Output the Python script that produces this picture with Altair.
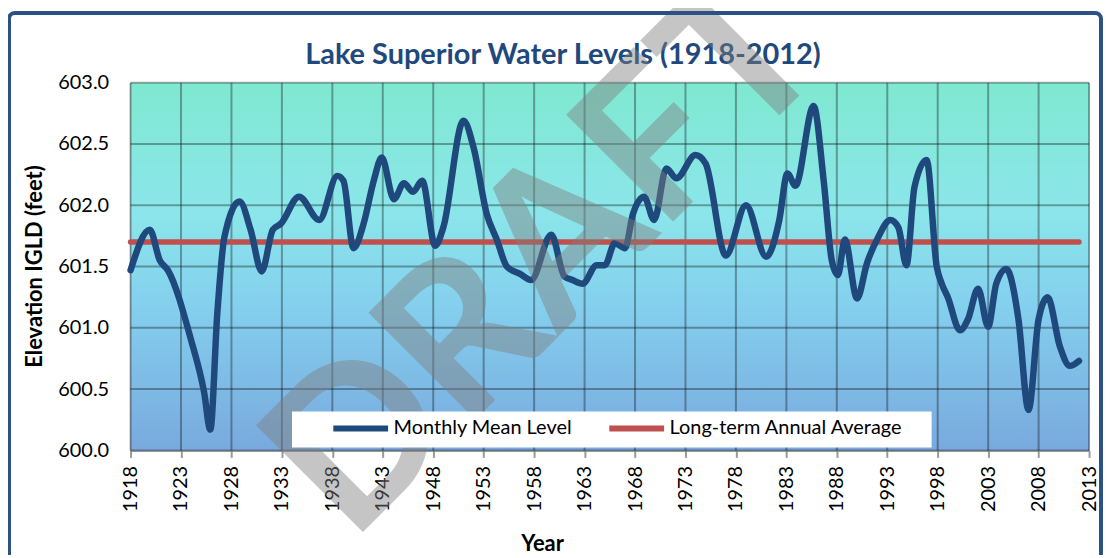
import altair as alt
import pandas as pd

# ---- data ----
years = [1918.0, 1919.9, 1920.9, 1921.7, 1924.0, 1925.3, 1925.9, 1926.6, 1927.3, 1928.8,
         1929.9, 1931.0, 1932.1, 1932.9, 1934.7, 1936.7, 1938.5, 1939.1, 1940.1, 1941.1,
         1942.1, 1942.9, 1944.1, 1945.1, 1946.0, 1946.9, 1948.2, 1949.0, 1951.0, 1952.0,
         1953.3, 1954.3, 1955.3, 1956.6, 1957.7, 1959.7, 1961.0, 1961.8, 1962.8, 1964.2,
         1965.0, 1966.0, 1967.0, 1967.8, 1968.9, 1969.9, 1971.1, 1972.1, 1974.0, 1975.0,
         1977.0, 1979.0, 1981.0, 1982.3, 1983.1, 1983.9, 1985.7, 1986.7, 1987.5, 1988.1,
         1988.8, 1990.0, 1991.0, 1992.1, 1993.3, 1994.1, 1994.9, 1995.7, 1996.9, 1997.9,
         1998.4, 1999.0, 2000.2, 2001.0, 2002.0, 2003.0, 2003.8, 2004.8, 2006.0, 2007.0,
         2008.0, 2008.9, 2010.1, 2011.1, 2012.0]
levels = [601.47, 601.80, 601.55, 601.47, 600.90, 600.47, 600.17, 601.12, 601.74, 602.03,
          601.80, 601.46, 601.80, 601.85, 602.07, 601.88, 602.24, 602.20, 601.65, 601.85,
          602.20, 602.39, 602.05, 602.18, 602.11, 602.20, 601.67, 601.82, 602.69, 602.47,
          601.93, 601.72, 601.50, 601.44, 601.39, 601.76, 601.42, 601.39, 601.36, 601.51,
          601.51, 601.69, 601.65, 601.93, 602.07, 601.88, 602.30, 602.22, 602.41, 602.34,
          601.59, 602.00, 601.58, 601.88, 602.26, 602.16, 602.81, 602.20, 601.55, 601.43,
          601.72, 601.24, 601.53, 601.74, 601.88, 601.82, 601.51, 602.15, 602.37, 601.50,
          601.36, 601.25, 600.98, 601.07, 601.32, 601.01, 601.36, 601.48, 601.07, 600.33,
          601.07, 601.25, 600.85, 600.69, 600.73]
avg_years = [1918, 2012]
avg_level = 601.70
x_ticks = list(range(1918, 2014, 5))
y_ticks = [600.0, 600.5, 601.0, 601.5, 602.0, 602.5, 603.0]
series_names = ["Monthly Mean Level", "Long-term Annual Average"]
series_colors = ["#1F497D", "#C0504D"]
title_text = ["Lake Superior Water Levels (1918-2012)"]
watermark_text = ["DRAFT"]

monthly = pd.DataFrame({"year": years, "level": levels, "series": series_names[0]})
average = pd.DataFrame({"year": avg_years, "level": [avg_level] * len(avg_years),
                        "series": series_names[1]})
bg_df = pd.DataFrame({"year": [x_ticks[0]], "year2": [x_ticks[-1]],
                      "level": [y_ticks[0]], "level2": [y_ticks[-1]]})

FONT = "Lato"
x_scale = alt.Scale(domain=[x_ticks[0], x_ticks[-1]], nice=False, zero=False)
y_scale = alt.Scale(domain=[y_ticks[0], y_ticks[-1]], nice=False, zero=False)
color_scale = alt.Scale(domain=series_names, range=series_colors)

x_axis = alt.Axis(values=x_ticks, format="d", labelAngle=270, grid=False,
                  tickSize=7, tickWidth=2, tickColor="#9a9a9a", labelPadding=8,
                  domainColor="#a0a0a0", domainWidth=1.5,
                  labelFontSize=20, labelColor="black", labelFont=FONT,
                  titleFont=FONT, titleFontSize=22, titleFontWeight="bold", titleColor="black",
                  titleX=413, titleY=93, titleAlign="center", titleBaseline="middle")
y_axis = alt.Axis(values=y_ticks, format=".1f", grid=False, ticks=False, labelPadding=22,
                  domainColor="#a0a0a0", domainWidth=1.5,
                  labelFontSize=20, labelColor="black", labelFont=FONT,
                  titleFont=FONT, titleFontSize=22, titleFontWeight="bold", titleColor="black",
                  titleAngle=270, titleX=-96, titleY=184, titleAlign="center",
                  titleBaseline="middle")


def X(field):
    return alt.X(f"{field}:Q", scale=x_scale, axis=x_axis, title="Year")


def Y(field):
    return alt.Y(f"{field}:Q", scale=y_scale, axis=y_axis, title="Elevation IGLD (feet)")


legend = alt.Legend(title=" ", titleOrient="right", titlePadding=22,
                    orient="none", legendX=162, legendY=330,
                    direction="horizontal", fillColor="white", padding=7,
                    symbolType="M-5.5,0H5.5", symbolSize=100, symbolStrokeWidth=6,
                    labelFont=FONT, labelFontSize=20, labelColor="black", labelLimit=400,
                    columnPadding=2, labelOffset=23, symbolOffset=52)
color = alt.Color("series:N", scale=color_scale, legend=legend)

gradient = alt.Gradient(
    gradient="linear", x1=0, x2=0, y1=0, y2=1,
    stops=[alt.GradientStop(offset=0.0, color="#7FE8D0"),
           alt.GradientStop(offset=0.35, color="#8BE6EA"),
           alt.GradientStop(offset=0.6, color="#84D0EE"),
           alt.GradientStop(offset=1.0, color="#79A9DE")])

bg = alt.Chart(bg_df).mark_rect(color=gradient).encode(
    x=X("year"), x2="year2", y=Y("level"), y2="level2")

xgrid = alt.Chart(pd.DataFrame({"year": x_ticks})).mark_rule(
    color="black", opacity=0.33, strokeWidth=2).encode(x=X("year"))
ygrid = alt.Chart(pd.DataFrame({"level": y_ticks})).mark_rule(
    color="black", opacity=0.33, strokeWidth=2).encode(y=Y("level"))

avg_line = alt.Chart(average).mark_line(strokeWidth=5.5, strokeCap="round").encode(
    x=X("year"), y=Y("level"), color=color)
monthly_line = alt.Chart(monthly).mark_line(
    strokeWidth=6.5, strokeCap="round", interpolate="monotone").encode(
    x=X("year"), y=Y("level"), color=color)

watermark = alt.Chart(pd.DataFrame({"t": watermark_text})).mark_text(
    font=FONT, fontSize=210, fontWeight="bold", color="#808080", opacity=0.45,
    angle=315, align="center", baseline="middle").encode(
    text="t:N", x=alt.value(419), y=alt.value(176))

title = alt.Chart(pd.DataFrame({"t": title_text})).mark_text(
    font=FONT, fontSize=29, fontWeight="bold", color="#1F497D",
    align="center", baseline="alphabetic").encode(
    text="t:N", x=alt.value(434), y=alt.value(-19))

border = alt.Chart(pd.DataFrame({"a": [0]})).mark_rect(
    filled=False, stroke="#2B5185", strokeWidth=4, cornerRadius=6).encode(
    x=alt.value(-122), x2=alt.value(974), y=alt.value(-70), y2=alt.value(520))

chart = alt.layer(bg, xgrid, ygrid, avg_line, monthly_line, title, watermark,
                  border).properties(
    width=962, height=369,
    padding={"left": 123, "top": 74, "right": 15, "bottom": 104},
    autosize="none",
    background="white",
).configure_view(stroke="#8c8c8c", strokeWidth=1).configure(font=FONT)

chart.save("out.html", embed_options={"renderer": "svg", "actions": False})
